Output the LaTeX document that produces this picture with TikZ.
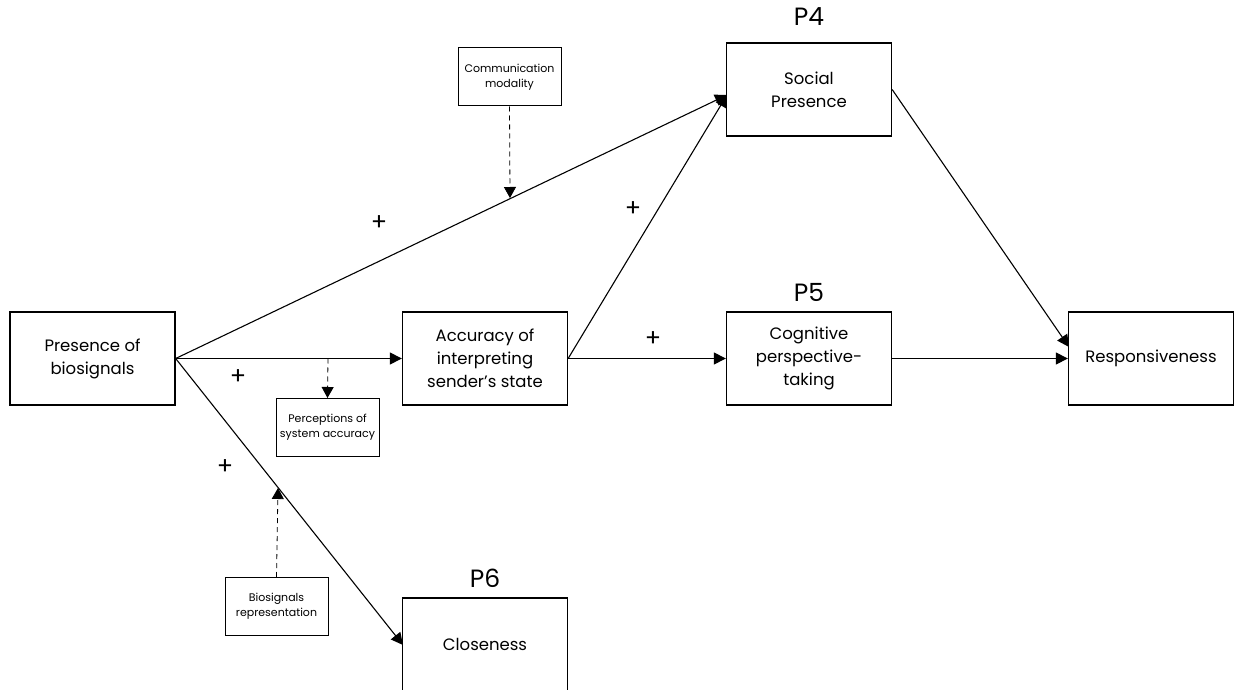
\documentclass[tikz,border=0pt]{standalone}
\usepackage{fontspec}
\setmainfont{Poppins}
\usetikzlibrary{arrows.meta, positioning, calc}

\begin{document}
\begin{tikzpicture}[x=1pt, y=-1pt,
  box/.style={draw, line width=1.3pt, minimum width=165pt, minimum height=93pt, align=center, font=\fontsize{16.5}{23}\selectfont},
  modbox/.style={draw, line width=1pt, minimum width=103pt, minimum height=58pt, align=center, font=\fontsize{11}{15}\selectfont},
  plabel/.style={font=\fontsize{25}{28}\selectfont},
  plus/.style={font=\fontsize{24}{24}\selectfont},
  link/.style={line width=1.1pt, -{Triangle[length=12pt,width=12pt]}},
  modlink/.style={line width=0.8pt, dash pattern=on 5pt off 4pt, -{Triangle[length=11pt,width=12pt]}}]
  \useasboundingbox (0,0) rectangle (1235,690);
  % main constructs
  \node[box] (pres) at (92.5,358.5) {Presence of\\biosignals};
  \node[box] (acc) at (485,358.5) {Accuracy of\\interpreting\\sender's state};
  \node[box] (soc) at (809,89.5) {Social\\Presence};
  \node[box] (cog) at (809,358.5) {Cognitive\\perspective-\\taking};
  \node[box] (resp) at (1151,358.5) {Responsiveness};
  \node[box] (clo) at (485,644.5) {Closeness};
  % proposition labels
  \node[plabel] (p4) at (809,17) {P4};
  \node[plabel] (p5) at (809,292) {P5};
  \node[plabel] (p6) at (485,578) {P6};
  % moderators
  \node[modbox] (comm) at (509.5,77) {Communication\\modality};
  \node[modbox] (perc) at (327.5,427.5) {Perceptions of\\system accuracy};
  \node[modbox] (bior) at (276.5,606.5) {Biosignals\\representation};
  % arrow ends
  \coordinate (socin) at (727,95);
  \coordinate (respin) at (1069,347);
  \coordinate (cloin) at (403,645);
  \coordinate (common) at (510,198);
  \coordinate (percon) at (328,358.5);
  \coordinate (bioon) at (278,488);
  % paths
  \draw[link] (pres.east) -- (socin);
  \draw[link] (pres.east) -- (acc.west);
  \draw[link] (pres.east) -- (cloin);
  \draw[link] (acc.east) -- (socin);
  \draw[link] (acc.east) -- (cog.west);
  \draw[link] (soc.east) -- (respin);
  \draw[link] (cog.east) -- (resp.west);
  % moderating effects
  \draw[modlink] (comm.south) -- (common);
  \draw[modlink] (percon) -- (perc.north);
  \draw[modlink] (bior.north) -- (bioon);
  % signs
  \node[plus] (s1) at (379,223) {+};
  \node[plus] (s2) at (238,377) {+};
  \node[plus] (s3) at (225,467) {+};
  \node[plus] (s4) at (633,209) {+};
  \node[plus] (s5) at (653,339) {+};
\end{tikzpicture}
\end{document}
